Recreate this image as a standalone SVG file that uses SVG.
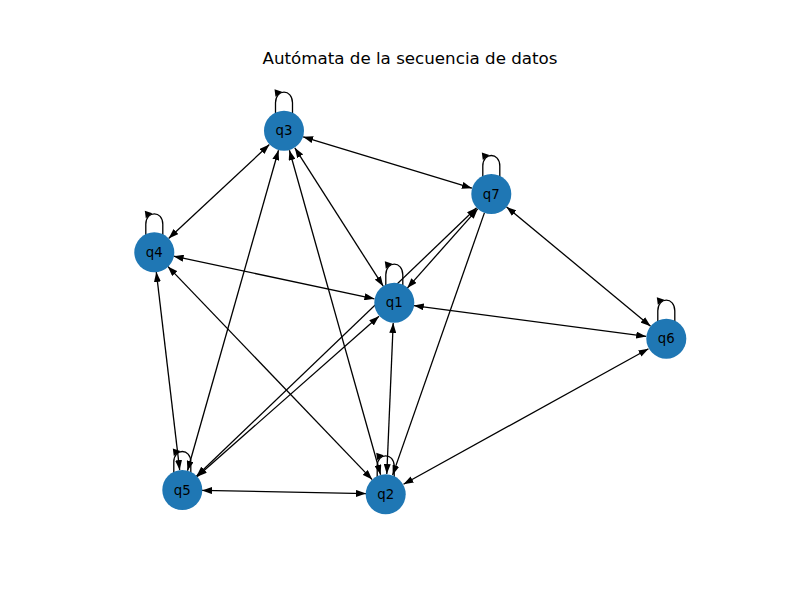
<svg xmlns="http://www.w3.org/2000/svg" xmlns:xlink="http://www.w3.org/1999/xlink" width="800" height="600" viewBox="0 0 800 600">
<style>
.e{stroke:#000;stroke-width:1.3;fill:none}
.b{marker-start:url(#ah);marker-end:url(#ah)}
.s{marker-end:url(#ah)}
.n{fill:#1f77b4}
.t{font-family:"DejaVu Sans","Liberation Sans",sans-serif;font-size:13.3px;fill:#000;text-anchor:middle;dominant-baseline:central}
.title{font-family:"DejaVu Sans","Liberation Sans",sans-serif;font-size:16.7px;fill:#000;text-anchor:middle}
</style>
<defs>
<marker id="ah" markerWidth="10" markerHeight="7" refX="10" refY="3.5" orient="auto-start-reverse" markerUnits="userSpaceOnUse">
<path d="M0,0 L10,3.5 L0,7 z" fill="#000"/>
</marker>
<g id="loop">
<path class="e" d="M-8.5,-16 L-8.5,-28 C-8.5,-42 8.5,-42 8.5,-28 L8.5,-16"/>
<polygon points="-9.5,-41.5 -8.5,-34 -2,-39" fill="#000"/>
</g>
</defs>
<rect width="800" height="600" fill="#fff"/>
<text class="title" x="410" y="64">Autómata de la secuencia de datos</text>
<g id="edges">
<line class="e b" x1="303.1" y1="136.8" x2="471.9" y2="188.2"/>
<line class="e b" x1="269.4" y1="144.6" x2="168.6" y2="238.4"/>
<line class="e b" x1="294.8" y1="147.8" x2="383.2" y2="286.2"/>
<line class="e b" x1="278.5" y1="150.2" x2="187.5" y2="470.8"/>
<line class="e b" x1="289.4" y1="150.3" x2="380.6" y2="474.7"/>
<line class="e b" x1="173.6" y1="256.2" x2="374.4" y2="298.8"/>
<line class="e b" x1="156.3" y1="271.9" x2="179.7" y2="470.1"/>
<line class="e b" x1="167.8" y1="266.4" x2="372.2" y2="479.6"/>
<line class="e b" x1="407.3" y1="288.1" x2="477.7" y2="208.9"/>
<line class="e b" x1="413.8" y1="305.6" x2="646.2" y2="336.4"/>
<line class="e b" x1="393.2" y1="323" x2="386.8" y2="474"/>
<line class="e b" x1="379" y1="316.2" x2="197" y2="476.8"/>
<line class="e b" x1="506.4" y1="206.8" x2="650.6" y2="326.2"/>
<line class="e b" x1="476.6" y1="207.8" x2="196.4" y2="476.2"/>
<line class="e s" x1="484.4" y1="212.9" x2="392.6" y2="475.1"/>
<line class="e b" x1="648.5" y1="348.7" x2="403.5" y2="484.3"/>
<line class="e b" x1="202" y1="490.4" x2="366" y2="493.6"/>
<use xlink:href="#loop" x="394.3" y="302.7"/>
<use xlink:href="#loop" x="385.7" y="494.3"/>
<use xlink:href="#loop" x="284" y="130.7"/>
<use xlink:href="#loop" x="154.3" y="252.3"/>
<use xlink:href="#loop" x="182.3" y="490"/>
<use xlink:href="#loop" x="666.3" y="338.7"/>
<use xlink:href="#loop" x="491.3" y="194"/>
</g>
<g id="q1"><circle class="n" cx="394.3" cy="302.7" r="20"/><text class="t" x="394.3" y="302.7">q1</text></g>
<g id="q2"><circle class="n" cx="385.7" cy="494.3" r="20"/><text class="t" x="385.7" y="494.3">q2</text></g>
<g id="q3"><circle class="n" cx="284" cy="130.7" r="20"/><text class="t" x="284" y="130.7">q3</text></g>
<g id="q4"><circle class="n" cx="154.3" cy="252.3" r="20"/><text class="t" x="154.3" y="252.3">q4</text></g>
<g id="q5"><circle class="n" cx="182.3" cy="490" r="20"/><text class="t" x="182.3" y="490">q5</text></g>
<g id="q6"><circle class="n" cx="666.3" cy="338.7" r="20"/><text class="t" x="666.3" y="338.7">q6</text></g>
<g id="q7"><circle class="n" cx="491.3" cy="194" r="20"/><text class="t" x="491.3" y="194">q7</text></g>
</svg>
